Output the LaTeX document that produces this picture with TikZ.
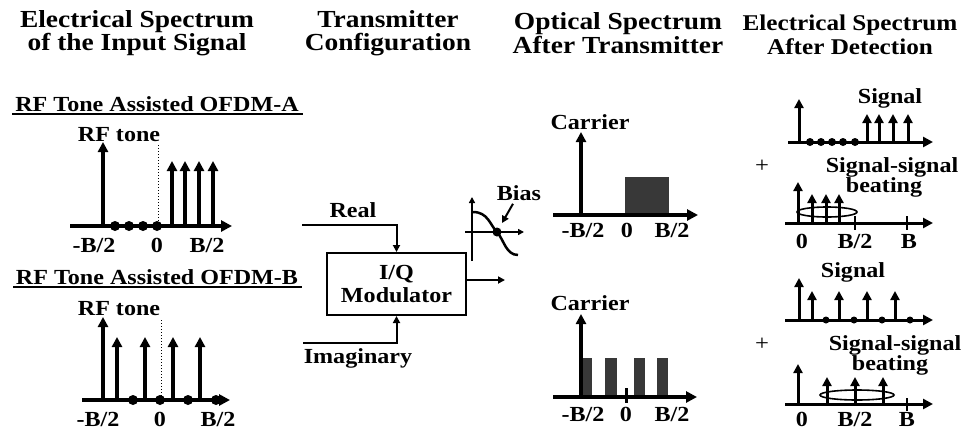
\documentclass[tikz,border=0pt]{standalone}
\usepackage{fontspec}
\setmainfont{Liberation Serif}[FakeStretch=1.12]
\usetikzlibrary{arrows.meta}
\newcommand\mytitlefont{\fontsize{24.5}{23.5}\selectfont\bfseries}
\newcommand\myrtitlefont{\fontsize{22.5}{24}\selectfont\bfseries}
\newcommand\mylblfont{\fontsize{21.5}{21.5}\selectfont\bfseries}
\begin{document}
\begin{tikzpicture}[x=1pt,y=-1pt,
  lbl/.style={font=\mylblfont, inner sep=0pt},
  ttl/.style={font=\mytitlefont, align=center, inner sep=0pt},
  ax/.style={line width=3.5pt, -{Triangle[length=11pt,width=11pt]}},
  tone/.style={line width=3.5pt, -{Triangle[length=10pt,width=10pt]}},
  rax/.style={line width=3pt, -{Triangle[length=10pt,width=10pt]}},
  rtone/.style={line width=3pt, -{Triangle[length=9pt,width=9pt]}},
  conn/.style={line width=2pt, -{Triangle[length=7pt,width=7pt]}},
  bar/.style={fill=black!78},
  ell/.style={line width=1.6pt}
]
\useasboundingbox (0,0) rectangle (967,432);

% ---------- titles
\node[ttl] (t1) at (137,33) {Electrical Spectrum\\of the Input Signal};
\node[ttl] (t2) at (388,33) {Transmitter\\Configuration};
\node[ttl] (t3) at (618,33) {Optical Spectrum\\After Transmitter};
\node[ttl, font=\myrtitlefont] (t4) at (850,35) {Electrical Spectrum\\After Detection};

% ---------- input A
\node[lbl, anchor=base] (subA) at (157,111) {RF Tone Assisted OFDM-A};
\draw[line width=1.5pt] (12,114) -- (303,114);
\node[lbl] (rfA) at (119,135) {RF tone};
\draw[ax] (70,226) -- (232,226);
\draw[tone] (103,226) -- (103,142);
\foreach \x in {115,129,143,157} \fill (\x,226) circle (5);
\draw[dotted, line width=1pt] (158,145) -- (158,226);
\foreach \x in {172,185,199,213} \draw[tone] (\x,226) -- (\x,161);
\node[lbl] (aL) at (94,245) {-B/2};
\node[lbl] (a0) at (157,245) {0};
\node[lbl] (aR) at (207,245) {B/2};

% ---------- input B
\node[lbl, anchor=base] (subB) at (157,284) {RF Tone Assisted OFDM-B};
\draw[line width=1.5pt] (13,287) -- (302,287);
\node[lbl] (rfB) at (119,309) {RF tone};
\draw[ax] (82,400) -- (230,400);
\draw[tone] (103,400) -- (103,317);
\foreach \x in {117,145,173,200} \draw[tone] (\x,400) -- (\x,337);
\foreach \x in {133,160,188,216} \fill (\x,400) circle (5);
\draw[dotted, line width=1pt] (161,320) -- (161,400);
\node[lbl] (bL) at (98,419) {-B/2};
\node[lbl] (b0) at (160,419) {0};
\node[lbl] (bR) at (218,419) {B/2};

% ---------- transmitter
\node[draw, line width=2pt, minimum width=139pt, minimum height=62pt,
      align=center, font=\mylblfont, inner sep=0pt] (mod) at (396.5,284)
      {I/Q\\[2pt]Modulator};
\coordinate (realin) at (302,225);
\coordinate (imin) at (303,343);
\draw[conn] (realin) -| (mod.north);
\draw[conn] (imin) -| (mod.south);
\node[lbl] (real) at (353,210) {Real};
\node[lbl] (imag) at (358,358) {Imaginary};
\coordinate (out) at (505,280);
\draw[conn] (mod.east |- out) -- (out);

% bias transfer curve
\draw[line width=1.8pt, -{Triangle[length=6pt,width=6pt]}] (472,261) -- (472,197);
\draw[line width=1.8pt, -{Triangle[length=6pt,width=6pt]}] (465,232) -- (524,232);
\draw[line width=2.5pt] (473,212) .. controls (488,212) and (490,225) .. (497,232)
  .. controls (504,240) and (506,255) .. (518,255);
\fill (497,232) circle (4.5);
\node[lbl] (bias) at (519,193) {Bias};
\coordinate (biasend) at (502,223);
\draw[conn] ([xshift=-6pt,yshift=-3pt]bias.south) -- (biasend);

% ---------- optical top
\node[lbl] (carA) at (590,122) {Carrier};
\fill[bar] (625,177) rectangle (669,215);
\draw[ax] (553,215) -- (698,215);
\draw[tone] (581,215) -- (581,132);
\node[lbl] (oaL) at (583,230) {-B/2};
\node[lbl] (oa0) at (627,230) {0};
\node[lbl] (oaR) at (672,230) {B/2};

% ---------- optical bottom
\node[lbl] (carB) at (590,303) {Carrier};
\foreach \a/\b in {582/592,605/617,634/645,657/668} \fill[bar] (\a,358) rectangle (\b,397);
\draw[ax] (553,397) -- (697,397);
\draw[tone] (581,397) -- (581,314);
\draw[line width=3pt] (626,388) -- (626,403);
\node[lbl] (obL) at (583,414) {-B/2};
\node[lbl] (ob0) at (626,414) {0};
\node[lbl] (obR) at (672,414) {B/2};

% ---------- detection top
\node[lbl] (sigA) at (890,98) {Signal};
\draw[rax] (788,142) -- (933,142);
\draw[rtone] (799,142) -- (799,99);
\foreach \x in {810,821,832,843,855} \fill (\x,142) circle (4);
\foreach \x in {867,879,893,908} \draw[rtone] (\x,142) -- (\x,114);
\node[font=\fontsize{22}{22}\selectfont, inner sep=0pt] (plusA) at (762,166) {+};
\node[lbl] (ssA) at (892,167) {Signal-signal};
\node[lbl] (beA) at (884,187) {beating};
\draw[rax] (785,223) -- (933,223);
\draw[ell] (827,212) ellipse (30 and 5);
\draw[rtone] (798,223) -- (798,182);
\foreach \x in {812,826,839} \draw[rtone] (\x,223) -- (\x,194);
\draw[line width=1.8pt] (855,216) -- (855,230);
\draw[line width=1.8pt] (907,216) -- (907,230);
\node[lbl] (dA0) at (802,241) {0};
\node[lbl] (dAh) at (855,241) {B/2};
\node[lbl] (dAB) at (909,241) {B};

% ---------- detection bottom
\node[lbl] (sigB) at (853,272) {Signal};
\draw[rax] (785,320) -- (933,320);
\draw[rtone] (799,320) -- (799,278);
\foreach \x in {812,839,867,895} \draw[rtone] (\x,320) -- (\x,291);
\foreach \x in {826,854,882,910} \fill (\x,320) circle (3.5);
\node[font=\fontsize{22}{22}\selectfont, inner sep=0pt] (plusB) at (762,344) {+};
\node[lbl] (ssB) at (895,345) {Signal-signal};
\node[lbl] (beB) at (890,365) {beating};
\draw[rax] (785,404) -- (933,404);
\draw[ell] (857,395) ellipse (37 and 5);
\draw[rtone] (798,404) -- (798,364);
\foreach \x in {827,855,883} \draw[rtone] (\x,404) -- (\x,377);
\draw[line width=1.8pt] (907,398) -- (907,411);
\node[lbl] (dB0) at (802,419) {0};
\node[lbl] (dBh) at (855,419) {B/2};
\node[lbl] (dBB) at (907,419) {B};
\end{tikzpicture}
\end{document}
